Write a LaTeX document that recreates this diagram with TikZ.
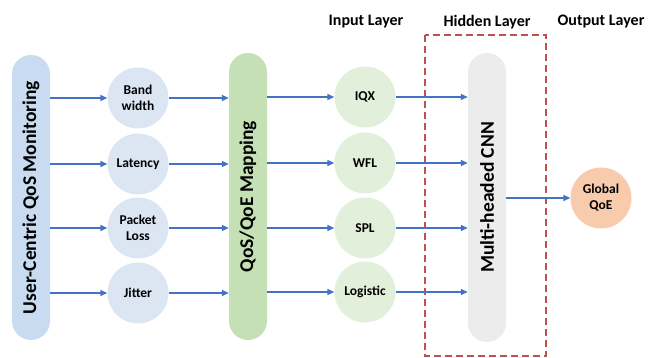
\documentclass[tikz,border=0pt]{standalone}
\usepackage{fontspec}
\setmainfont{Carlito}
\usetikzlibrary{arrows.meta}
\definecolor{pillblue}{RGB}{200,219,240}
\definecolor{circblue}{RGB}{220,230,243}
\definecolor{pillgreen}{RGB}{197,224,180}
\definecolor{circgreen}{RGB}{226,239,218}
\definecolor{pillgray}{RGB}{236,236,236}
\definecolor{circorange}{RGB}{248,203,173}
\definecolor{arrowblue}{RGB}{68,114,196}
\definecolor{dashred}{RGB}{192,80,77}
\tikzset{
  pill/.style={rectangle, rounded corners=19pt, minimum width=38pt, minimum height=#1,
    inner sep=0pt, font=\bfseries\fontsize{19.5}{22}\selectfont},
  bubble/.style={circle, minimum size=61pt, inner sep=0pt, align=center,
    font=\bfseries\fontsize{13.5}{16}\selectfont},
  layerlabel/.style={font=\bfseries\fontsize{16}{18}\selectfont},
  link/.style={draw=arrowblue, line width=1.4pt, -{Triangle[length=7pt,width=6pt]}}
}
\begin{document}
\begin{tikzpicture}[x=1pt,y=-1pt]
  \useasboundingbox (0,0) rectangle (648,358);

  % layer headings
  \node[layerlabel] (hin) at (366,22) {Input Layer};
  \node[layerlabel] (hhid) at (487,22) {Hidden Layer};
  \node[layerlabel] (hout) at (601,22) {Output Layer};

  % hidden-layer frame
  \draw[dashred, line width=1.3pt, dash pattern=on 7pt off 4pt] (425,35) rectangle (546,356);

  % vertical stages
  \node[pill=285pt, fill=pillblue] (mon) at (31,197.5) {\rotatebox{90}{User-Centric QoS Monitoring}};
  \node[pill=287pt, fill=pillgreen] (map) at (248,196.5) {\rotatebox{90}{QoS/QoE Mapping}};
  \node[pill=289pt, fill=pillgray] (cnn) at (487,197.5) {\rotatebox{90}{Multi-headed CNN}};

  % QoS metrics
  \node[bubble, fill=circblue] (bw) at (138,98) {Band\\width};
  \node[bubble, fill=circblue] (lat) at (138,164) {Latency};
  \node[bubble, fill=circblue] (pl) at (138,228) {Packet\\Loss};
  \node[bubble, fill=circblue] (jit) at (138,293) {Jitter};

  % QoE models
  \node[bubble, fill=circgreen] (iqx) at (365,97) {IQX};
  \node[bubble, fill=circgreen] (wfl) at (365,163) {WFL};
  \node[bubble, fill=circgreen] (spl) at (365,228) {SPL};
  \node[bubble, fill=circgreen] (logi) at (365,292) {Logistic};

  % output
  \node[bubble, fill=circorange] (qoe) at (601,198) {Global\\QoE};

  % monitoring -> metrics
  \draw[link] (mon.east |- bw) -- (bw);
  \draw[link] (mon.east |- lat) -- (lat);
  \draw[link] (mon.east |- pl) -- (pl);
  \draw[link] (mon.east |- jit) -- (jit);

  % metrics -> mapping
  \draw[link] (bw) -- (map.west |- bw);
  \draw[link] (lat) -- (map.west |- lat);
  \draw[link] (pl) -- (map.west |- pl);
  \draw[link] (jit) -- (map.west |- jit);

  % mapping -> models
  \draw[link] (map.east |- iqx) -- (iqx);
  \draw[link] (map.east |- wfl) -- (wfl);
  \draw[link] (map.east |- spl) -- (spl);
  \draw[link] (map.east |- logi) -- (logi);

  % models -> CNN
  \draw[link] (iqx) -- (cnn.west |- iqx);
  \draw[link] (wfl) -- (cnn.west |- wfl);
  \draw[link] (spl) -- (cnn.west |- spl);
  \draw[link] (logi) -- (cnn.west |- logi);

  % CNN -> output
  \draw[link] (cnn.east |- qoe) -- (qoe);
\end{tikzpicture}
\end{document}
